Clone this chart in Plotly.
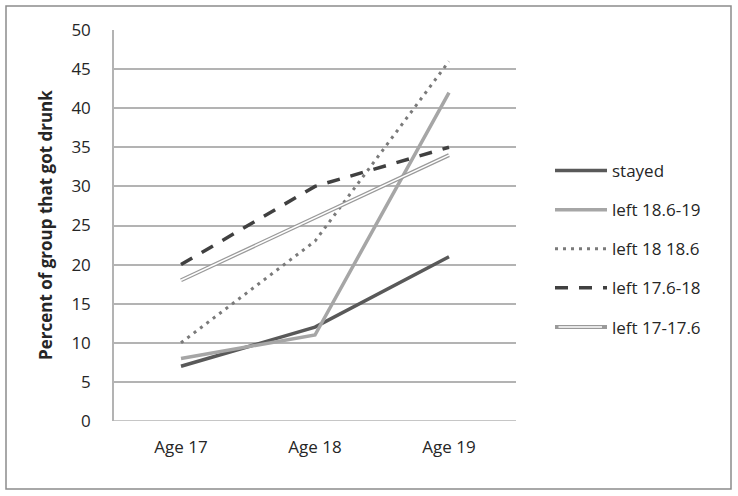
import plotly.graph_objects as go

categories = ["Age 17", "Age 18", "Age 19"]
stayed = [7, 12, 21]
left_186_19 = [8, 11, 42]
left_18_186 = [10, 23, 46]
left_176_18 = [20, 30, 35]
left_17_176 = [18, 26, 34]
y_ticks = [0, 5, 10, 15, 20, 25, 30, 35, 40, 45, 50]

fig = go.Figure()
fig.add_trace(go.Scatter(x=categories, y=stayed, mode="lines", name="stayed",
                         line=dict(color="#595959", width=3.5), legendgroup="g1"))
fig.add_trace(go.Scatter(x=categories, y=left_186_19, mode="lines", name="left 18.6-19",
                         line=dict(color="#a6a6a6", width=3.5), legendgroup="g2"))
fig.add_trace(go.Scatter(x=categories, y=left_18_186, mode="lines", name="left 18 18.6",
                         line=dict(color="#7a7a7a", width=3, dash="3px,5px"), legendgroup="g3"))
fig.add_trace(go.Scatter(x=categories, y=left_176_18, mode="lines", name="left 17.6-18",
                         line=dict(color="#404040", width=3.5, dash="13px,11px"), legendgroup="g4"))
fig.add_trace(go.Scatter(x=categories, y=left_17_176, mode="lines", name="left 17-17.6",
                         line=dict(color="#9a9a9a", width=4), legendgroup="g5"))
fig.add_trace(go.Scatter(x=categories, y=left_17_176, mode="lines", name="left 17-17.6",
                         line=dict(color="white", width=1.5), legendgroup="g5",
                         showlegend=False, hoverinfo="skip"))

PL, PR, PT, PB = 114, 516, 30, 421
W, H = 738, 496
pw, ph = PR - PL, PB - PT

def px(x):
    return (x - PL) / pw

def py(y):
    return (PB - y) / ph

fig.update_layout(
    width=W, height=H,
    margin=dict(l=PL, r=W - PR, t=PT, b=H - PB, autoexpand=False),
    paper_bgcolor="white", plot_bgcolor="white",
    font=dict(family="Open Sans, Noto Sans, sans-serif", size=17, color="#262626"),
    showlegend=True,
    legend=dict(x=px(550), y=py(249), yanchor="middle", xanchor="left",
                font=dict(size=17, color="#262626"), tracegroupgap=14,
                traceorder="grouped", bgcolor="rgba(0,0,0,0)", itemwidth=52),
    xaxis=dict(showgrid=False, showline=False, ticks="", tickfont=dict(size=17),
               range=[-0.5, 2.5], automargin=False, ticklabelstandoff=14),
    yaxis=dict(range=[0, 50], tickvals=y_ticks, showgrid=True, gridcolor="#b3b3b3",
               gridwidth=1.5, zeroline=False, showline=True, linecolor="#b3b3b3",
               linewidth=1.5, ticks="", tickfont=dict(size=17), automargin=False,
               ticklabelstandoff=18),
    annotations=[dict(text="<b>Percent of group that got drunk</b>", textangle=-90,
                      xref="paper", yref="paper", x=px(45), y=py(225),
                      xanchor="center", yanchor="middle", showarrow=False,
                      font=dict(size=17, color="#262626")),
                 # inner white stroke of the double-line legend symbol
                 dict(text="", xref="paper", yref="paper", x=px(602), y=py(327),
                      ax=-45, ay=0, showarrow=True, arrowhead=0, arrowwidth=1.5,
                      arrowcolor="white", standoff=0, startstandoff=0)],
    shapes=[dict(type="rect", xref="paper", yref="paper", x0=px(6), x1=px(731),
                 y0=py(489), y1=py(6), line=dict(color="#8c8c8c", width=1.5)),
            dict(type="line", xref="paper", yref="y", x0=0, x1=1, y0=0, y1=0,
                 line=dict(color="#b3b3b3", width=1.5), layer="below")],
)

fig.write_html("out.html", config={"displayModeBar": False},
               post_script="document.body.style.margin='0px';document.body.style.overflow='hidden';")
